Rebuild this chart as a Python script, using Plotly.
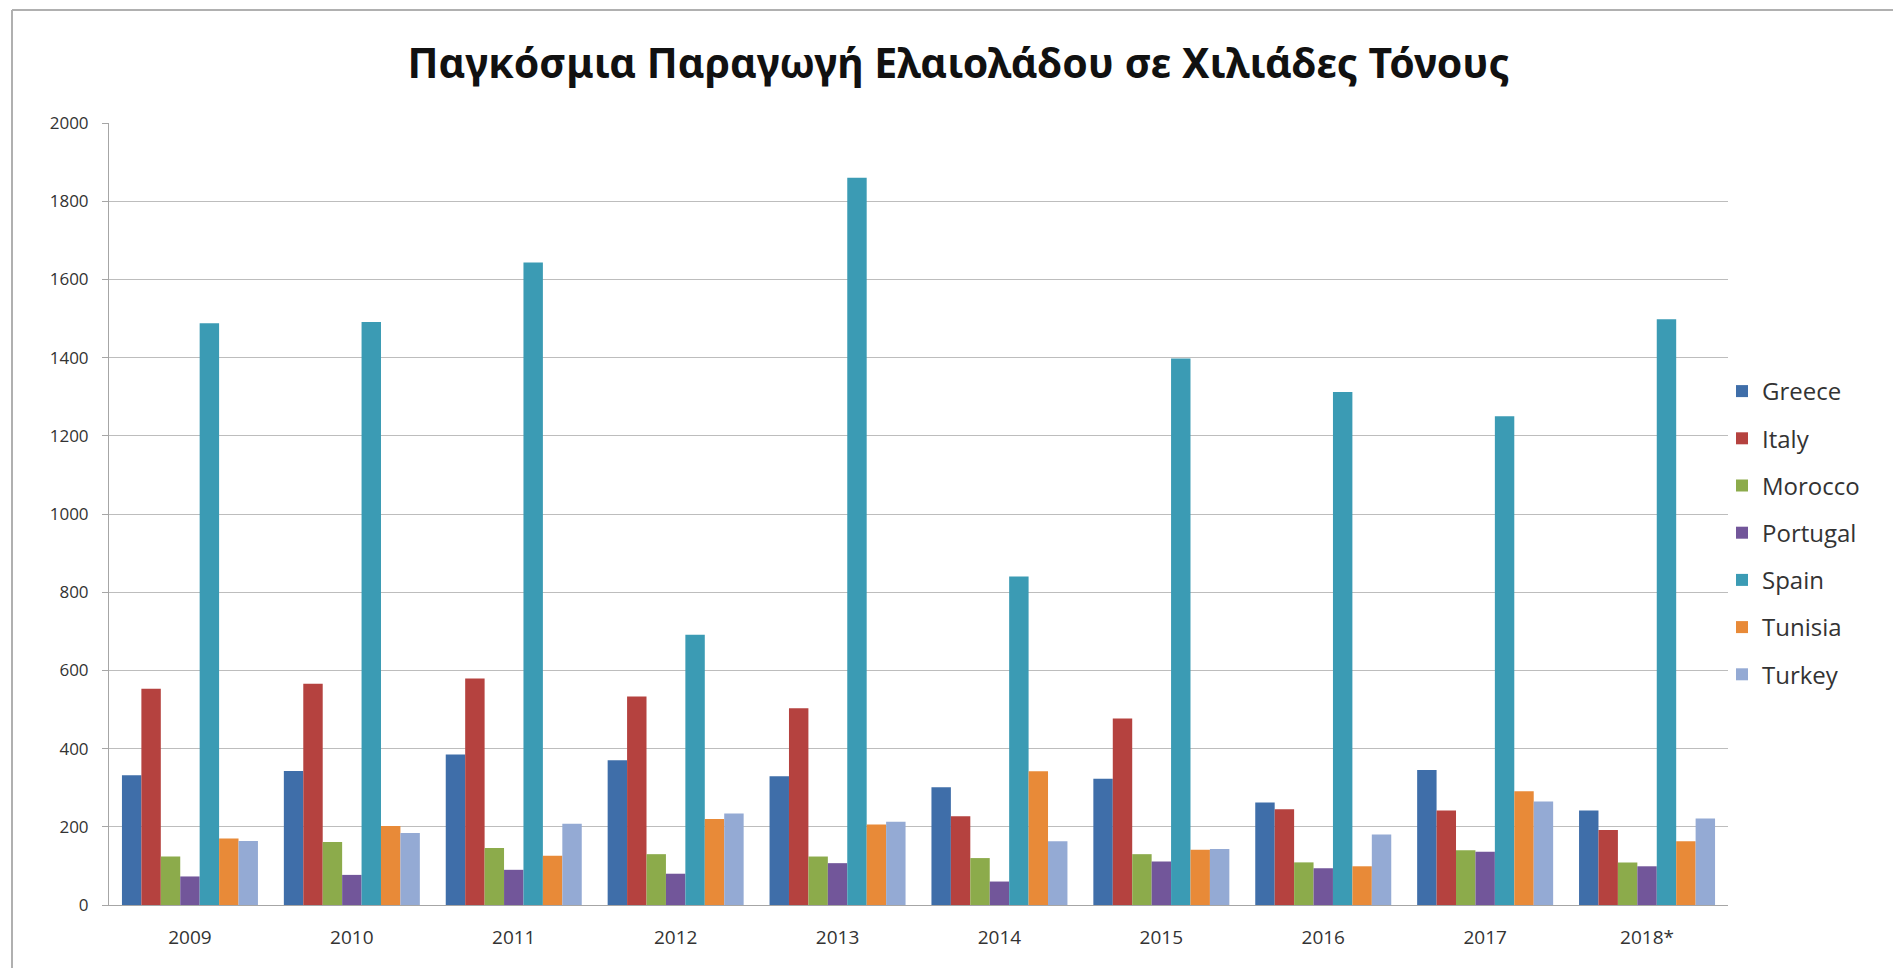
import plotly.graph_objects as go

years = ["2009", "2010", "2011", "2012", "2013", "2014", "2015", "2016", "2017", "2018*"]

greece = [332, 343, 385, 370, 329, 301, 323, 262, 345, 242]
italy = [553, 566, 579, 533, 503, 227, 477, 245, 242, 192]
morocco = [124, 161, 146, 130, 124, 120, 130, 109, 140, 109]
portugal = [73, 77, 90, 80, 107, 60, 111, 94, 136, 99]
spain = [1488, 1491, 1643, 691, 1860, 840, 1398, 1312, 1250, 1498]
tunisia = [170, 202, 126, 220, 206, 342, 141, 99, 291, 163]
turkey = [164, 184, 208, 234, 213, 163, 143, 180, 265, 221]

countries = ["Greece", "Italy", "Morocco", "Portugal", "Spain", "Tunisia", "Turkey"]
colors = ["#3F6EA9", "#B5423F", "#8CAB4B", "#72569A", "#3B9BB4", "#E88A38", "#94AAD4"]
series = [greece, italy, morocco, portugal, spain, tunisia, turkey]

W, H = 1901, 968
ML, MR, MT, MB = 101, 181, 115, 71

fig = go.Figure()

for name, vals, col in zip(countries, series, colors):
    fig.add_trace(
        go.Bar(
            x=years,
            y=vals,
            name=name,
            legendgroup=name,
            marker=dict(color=col, line=dict(width=0)),
        )
    )

pw = W - ML - MR
ph = H - MT - MB


def px_x(p):
    return (p - ML) / pw


def px_y(p):
    return (H - MB - p) / ph


fig.update_layout(
    width=W,
    height=H,
    margin={"l": ML, "r": MR, "t": MT, "b": MB},
    paper_bgcolor="white",
    plot_bgcolor="white",
    barmode="group",
    bargap=0.16,
    bargroupgap=0,
    font=dict(family="Open Sans, Noto Sans, sans-serif", color="#222222"),
    title=dict(
        text="<b>Παγκόσμια Παραγωγή Ελαιολάδου σε Χιλιάδες Τόνους</b>",
        x=0.5,
        xanchor="center",
        y=1 - 56 / H,
        yanchor="middle",
        font=dict(size=41, family="Noto Sans, Open Sans, sans-serif", color="#111111"),
    ),
    xaxis=dict(
        showgrid=False,
        showline=True,
        linecolor="#A6A6A6",
        linewidth=1,
        ticks="",
        ticklabelstandoff=15,
        tickfont=dict(size=19, color="#333333"),
    ),
    yaxis=dict(
        range=[0, 2000],
        dtick=200,
        showgrid=True,
        gridcolor="#BDBDBD",
        gridwidth=1,
        showline=True,
        linecolor="#A6A6A6",
        ticks="outside",
        ticklen=6,
        tickcolor="#A6A6A6",
        zeroline=False,
        ticklabelstandoff=10,
        tickfont=dict(size=17, color="#333333"),
    ),
    legend=dict(
        x=px_x(1714),
        xanchor="left",
        y=px_y(525),
        yanchor="middle",
        traceorder="grouped",
        tracegroupgap=13,
        font=dict(size=24, color="#333333"),
        bgcolor="rgba(0,0,0,0)",
    ),
    shapes=[
        dict(type="line", xref="paper", yref="paper",
             x0=px_x(4), x1=px_x(W), y0=px_y(2), y1=px_y(2),
             line=dict(color="#B0B0B0", width=2)),
        dict(type="line", xref="paper", yref="paper",
             x0=px_x(4), x1=px_x(4), y0=px_y(2), y1=px_y(H),
             line=dict(color="#B0B0B0", width=2)),
    ],
)

fig.write_html("out.html")
